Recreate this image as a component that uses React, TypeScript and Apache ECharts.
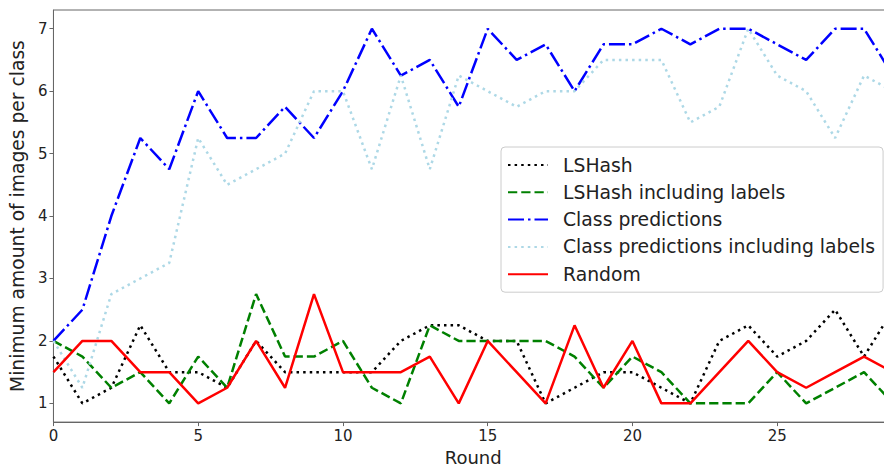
import React, { useEffect, useRef } from "react";
import * as echarts from "echarts";

const rounds = [0, 1, 2, 3, 4, 5, 6, 7, 8, 9, 10, 11, 12, 13, 14, 15, 16, 17, 18, 19, 20, 21, 22, 23, 24, 25, 26, 27, 28, 29];
const lshash = [1.75, 1.0, 1.25, 2.25, 1.5, 1.5, 1.25, 2.0, 1.5, 1.5, 1.5, 1.5, 2.0, 2.25, 2.25, 2.0, 2.0, 1.0, 1.25, 1.5, 1.5, 1.25, 1.0, 2.0, 2.25, 1.75, 2.0, 2.5, 1.75, 2.5];
const lshashLabels = [2.0, 1.75, 1.25, 1.5, 1.0, 1.75, 1.25, 2.75, 1.75, 1.75, 2.0, 1.25, 1.0, 2.25, 2.0, 2.0, 2.0, 2.0, 1.75, 1.25, 1.75, 1.5, 1.0, 1.0, 1.0, 1.5, 1.0, 1.25, 1.5, 1.0];
const classPred = [2.0, 2.5, 4.0, 5.25, 4.75, 6.0, 5.25, 5.25, 5.75, 5.25, 6.0, 7.0, 6.25, 6.5, 5.75, 7.0, 6.5, 6.75, 6.0, 6.75, 6.75, 7.0, 6.75, 7.0, 7.0, 6.75, 6.5, 7.0, 7.0, 6.25];
const classPredLabels = [2.0, 1.25, 2.75, 3.0, 3.25, 5.25, 4.5, 4.75, 5.0, 6.0, 6.0, 4.75, 6.25, 4.75, 6.25, 6.0, 5.75, 6.0, 6.0, 6.5, 6.5, 6.5, 5.5, 5.75, 7.0, 6.25, 6.0, 5.25, 6.25, 6.0];
const random = [1.5, 2.0, 2.0, 1.5, 1.5, 1.0, 1.25, 2.0, 1.25, 2.75, 1.5, 1.5, 1.5, 1.75, 1.0, 2.0, 1.5, 1.0, 2.25, 1.25, 2.0, 1.0, 1.0, 1.5, 2.0, 1.5, 1.25, 1.5, 1.75, 1.5];
const xTicks = [0, 5, 10, 15, 20, 25];
const yTicks = [1, 2, 3, 4, 5, 6, 7];

const FONT = "DejaVu Sans";
const LW = 2.5;

function pairs(vals: number[]) {
  return vals.map((v, i) => [rounds[i], v]);
}

export default function App() {
  const ref = useRef<HTMLDivElement>(null);
  useEffect(() => {
    if (!ref.current) return;
    const chart = echarts.init(ref.current, null, { renderer: "svg" });
    const mk = (name: string, vals: number[], color: string, dash: any) => ({
      name,
      type: "line",
      data: pairs(vals),
      showSymbol: false,
      symbol: "none",
      clip: true,
      lineStyle: { color, width: LW, type: dash, cap: "butt" },
      itemStyle: { color },
      emphasis: { disabled: true },
    });
    chart.setOption({
      animation: false,
      textStyle: { fontFamily: FONT },
      grid: {
        left: 48,
        right: 7,
        top: 10,
        bottom: 41,
        show: true,
        borderColor: "#666",
        borderWidth: 1,
        containLabel: false,
      },
      xAxis: {
        type: "value",
        min: 0,
        max: 29,
        name: "Round",
        nameLocation: "middle",
        nameGap: 24,
        nameTextStyle: { fontSize: 18, color: "#222", fontFamily: FONT },
        axisLine: { show: true, lineStyle: { color: "#666", width: 1 } },
        axisTick: { show: true, length: 4, lineStyle: { color: "#666" }, customValues: xTicks },
        axisLabel: { fontSize: 15, color: "#222", margin: 6, customValues: xTicks, fontFamily: FONT },
        splitLine: { show: false },
      },
      yAxis: {
        type: "value",
        min: 0.7,
        max: 7.3,
        name: "Minimum amount of images per class",
        nameLocation: "middle",
        nameGap: 24,
        nameTextStyle: { fontSize: 18.7, color: "#222", fontFamily: FONT },
        axisLine: { show: true, lineStyle: { color: "#666", width: 1 } },
        axisTick: { show: true, length: 4, lineStyle: { color: "#666" }, customValues: yTicks },
        axisLabel: { fontSize: 15, color: "#222", margin: 6, customValues: yTicks, fontFamily: FONT },
        splitLine: { show: false },
      },
      legend: {
        orient: "vertical",
        left: 501,
        top: 147,
        padding: [8, 8, 8, 6],
        itemWidth: 40,
        itemHeight: 14,
        itemGap: 7.3,
        backgroundColor: "rgba(255,255,255,0.8)",
        borderColor: "#cccccc",
        borderWidth: 1,
        borderRadius: 4,
        selectedMode: false,
        itemStyle: { color: "rgba(0,0,0,0)", borderColor: "rgba(0,0,0,0)", borderWidth: 0, opacity: 0 },
        textStyle: { fontSize: 18.8, color: "#222", fontFamily: FONT, lineHeight: 20, padding: [0, 0, 0, 10] },
        data: ["LSHash", "LSHash including labels", "Class predictions", "Class predictions including labels", "Random"],
      },
      series: [
        mk("LSHash", lshash, "#000000", [2.5, 4.1]),
        mk("LSHash including labels", lshashLabels, "#008000", [9.25, 4]),
        mk("Class predictions", classPred, "#0000ff", [16, 4, 2.5, 4]),
        mk("Class predictions including labels", classPredLabels, "#add8e6", [2.5, 4.1]),
        mk("Random", random, "#ff0000", "solid"),
      ],
    });
    return () => chart.dispose();
  }, []);
  return (
    <div style={{ position: "fixed", left: 0, top: 0, width: 884, height: 471, overflow: "hidden", background: "#fff" }}>
      <div ref={ref} style={{ width: 900, height: 471 }} />
    </div>
  );
}
